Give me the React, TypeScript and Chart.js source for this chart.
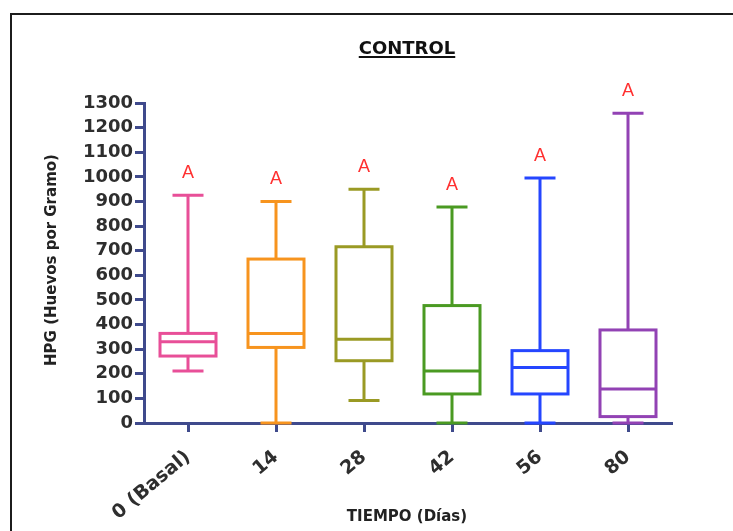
import React, { useEffect, useRef } from 'react';
import { Chart, registerables } from 'chart.js';

Chart.register(...registerables);

const categories = ['0 (Basal)', '14', '28', '42', '56', '80'];
const whiskerMin = [211, 0, 91, 0, 0, 0];
const q1 = [272, 307, 253, 118, 118, 26];
const median = [330, 364, 340, 211, 225, 138];
const q3 = [364, 666, 716, 477, 294, 378];
const whiskerMax = [925, 900, 950, 877, 995, 1258];
const groupLetters = ['A', 'A', 'A', 'A', 'A', 'A'];
const boxColors = ['#e84f98', '#f7941e', '#9a9a24', '#4a9a22', '#2546ff', '#9242b4'];
const yMin = 0;
const yMax = 1300;
const yStep = 100;

const titleText = 'CONTROL';
const xTitleText = 'TIEMPO (Días)';
const yTitleText = 'HPG (Huevos por Gramo)';

const AXIS = '#3f4a8c';
const TICK_TEXT = '#2e2e2e';

const boxPlugin = {
  id: 'boxExtras',
  afterDatasetsDraw(chart: any) {
    const ctx = chart.ctx;
    const xs = chart.scales.x;
    const ys = chart.scales.y;
    const meta = chart.getDatasetMeta(0);
    ctx.save();
    categories.forEach((_, i) => {
      const bar: any = meta.data[i];
      const x = xs.getPixelForValue(i);
      const half = bar.width / 2;
      const capHalf = 15.5;
      const pMax = ys.getPixelForValue(whiskerMax[i]);
      const pMin = ys.getPixelForValue(whiskerMin[i]);
      const pQ1 = ys.getPixelForValue(q1[i]);
      const pQ3 = ys.getPixelForValue(q3[i]);
      const pMed = ys.getPixelForValue(median[i]);
      ctx.strokeStyle = boxColors[i];
      ctx.lineWidth = 3;
      ctx.lineCap = 'butt';
      ctx.lineJoin = 'miter';
      // box
      ctx.strokeRect(x - half, pQ3, half * 2, pQ1 - pQ3);
      ctx.beginPath();
      // upper whisker
      ctx.moveTo(x, pQ3);
      ctx.lineTo(x, pMax);
      ctx.moveTo(x - capHalf, pMax);
      ctx.lineTo(x + capHalf, pMax);
      // lower whisker
      ctx.moveTo(x, pQ1);
      ctx.lineTo(x, pMin);
      ctx.moveTo(x - capHalf, pMin);
      ctx.lineTo(x + capHalf, pMin);
      // median
      ctx.moveTo(x - half, pMed);
      ctx.lineTo(x + half, pMed);
      ctx.stroke();
      // group letter
      ctx.fillStyle = '#ff3030';
      ctx.font = '18px "Liberation Sans", Arial, sans-serif';
      ctx.textAlign = 'center';
      ctx.textBaseline = 'middle';
      ctx.fillText(groupLetters[i], x, pMax - 22);
    });
    ctx.restore();
  },
  afterDraw(chart: any) {
    const ctx = chart.ctx;
    const area = chart.chartArea;
    ctx.save();
    // title
    ctx.fillStyle = '#111';
    ctx.font = 'bold 18px "DejaVu Sans", sans-serif';
    ctx.textAlign = 'center';
    ctx.textBaseline = 'alphabetic';
    const cx = (area.left + area.right) / 2 - 1;
    ctx.fillText(titleText, cx, 54);
    const w = ctx.measureText(titleText).width;
    ctx.fillRect(cx - w / 2, 56, w, 2);
    // x title
    ctx.fillStyle = '#222';
    ctx.font = 'bold 15px "DejaVu Sans", sans-serif';
    ctx.fillText(xTitleText, cx, 521);
    // y title
    ctx.translate(52, (area.top + area.bottom) / 2 - 3);
    ctx.rotate(-Math.PI / 2);
    ctx.textBaseline = 'middle';
    ctx.fillText(yTitleText, 0, 0);
    ctx.restore();
  },
};

export default function App() {
  const ref = useRef<HTMLCanvasElement>(null);
  useEffect(() => {
    if (!ref.current) return;
    const chart = new Chart(ref.current, {
      type: 'bar',
      data: {
        labels: categories,
        datasets: [
          {
            data: categories.map((_, i) => [q1[i], q3[i]]) as any,
            backgroundColor: 'rgba(0,0,0,0)',
            borderColor: 'rgba(0,0,0,0)',
            borderWidth: 0,
            barThickness: 56,
          },
        ],
      },
      options: {
        responsive: false,
        animation: false,
        events: [],
        layout: { padding: { left: 0, right: 61, top: 103, bottom: 0 } },
        plugins: {
          legend: { display: false },
          tooltip: { enabled: false },
          title: { display: false },
        },
        scales: {
          x: {
            afterFit: (s: any) => {
              s.height = 108;
            },
            border: { display: true, color: AXIS, width: 3 },
            grid: {
              offset: false,
              drawOnChartArea: false,
              drawTicks: true,
              tickLength: 9,
              tickWidth: 3,
              tickColor: AXIS,
              color: AXIS,
            },
            ticks: {
              minRotation: 40,
              maxRotation: 40,
              color: TICK_TEXT,
              padding: 14,
              font: { family: '"DejaVu Sans", sans-serif', size: 19, weight: 'bold' },
            },
          },
          y: {
            min: yMin,
            max: yMax,
            afterFit: (s: any) => {
              s.width = 144;
            },
            border: { display: true, color: AXIS, width: 3 },
            grid: {
              drawOnChartArea: false,
              drawTicks: true,
              tickLength: 9,
              tickWidth: 3,
              tickColor: AXIS,
              color: AXIS,
            },
            ticks: {
              stepSize: yStep,
              color: TICK_TEXT,
              padding: 2,
              callback: (v: any) => String(v),
              font: { family: '"DejaVu Sans", sans-serif', size: 18, weight: 'bold' },
            },
          },
        },
      },
      plugins: [boxPlugin],
    });
    return () => chart.destroy();
  }, []);

  return (
    <div
      style={{
        position: 'fixed',
        left: 0,
        top: 0,
        width: 733,
        height: 531,
        overflow: 'hidden',
        background: '#fff',
      }}
    >
      <div
        style={{
          position: 'absolute',
          left: 10,
          top: 13,
          width: 800,
          height: 600,
          border: '2px solid #1c1c1c',
        }}
      />
      <canvas
        ref={ref}
        width={733}
        height={531}
        style={{ position: 'absolute', left: 0, top: 0 }}
      />
    </div>
  );
}
